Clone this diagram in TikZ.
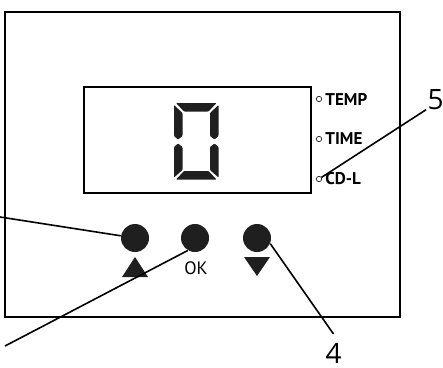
\documentclass[tikz,border=0pt]{standalone}
\usepackage{fontspec}
\setmainfont{PT Sans}
\newfontfamily\numfont{Open Sans}
\usetikzlibrary{positioning}

\tikzset{
	button/.style={circle,fill=black!88,minimum size=28pt,inner sep=0pt},
	lamp/.style={circle,draw,line width=0.6pt,minimum size=5.4pt,inner sep=0pt},
	lamptext/.style={font=\fontsize{17}{17}\selectfont\bfseries,inner sep=0pt,anchor=west},
	callout/.style={font=\numfont\fontsize{28}{28}\selectfont,inner sep=0pt,anchor=base},
	lead/.style={line width=1.6pt},
	segment/.style={fill=black!88,rounded corners=0.8pt}
}

\begin{document}
\begin{tikzpicture}[x=1pt,y=-1pt,thick]
			\useasboundingbox (0,0) rectangle (443,367);
			\draw[line width=1.4pt] (5,12) rectangle (400,317);
			\draw[line width=1.4pt] (84,87) rectangle (311,193);

			\fill[segment] (176,103)--(216.5,103)--(208.5,111.5)--(184,111.5)--cycle;
			\fill[segment] (174,105)--(182.5,113)--(182.5,136)--(178,139.5)--(174,136)--cycle;
			\fill[segment] (218.5,105)--(218.5,136)--(214.5,139.5)--(210,136)--(210,113)--cycle;
			\fill[segment] (174,147)--(178,143.5)--(182.5,147)--(182.5,170)--(174,177.5)--cycle;
			\fill[segment] (218.5,147)--(218.5,177.5)--(210,170)--(210,147)--(214.5,143.5)--cycle;
			\fill[segment] (184,171)--(208.5,171)--(216.5,179.5)--(176,179.5)--cycle;

			\node[lamp] (ltemp) at (319,99) {};
			\node[lamp] (ltime) at (319,139) {};
			\node[lamp] (lcdl) at (319,179) {};
			\node[lamptext,right=3pt of ltemp] (ttemp) {TEMP};
			\node[lamptext,right=3pt of ltime] (ttime) {TIME};
			\node[lamptext,right=3pt of lcdl] (tcdl) {CD-L};

			\node[button] (btnup) at (135,238) {};
			\node[button] (btnok) at (195,238) {};
			\node[button] (btndown) at (257,238) {};
			\fill[black!88] (122,277)--(148,277)--(135,257)--cycle;
			\fill[black!88] (244,257)--(270,257)--(257,276)--cycle;
			\node[font=\fontsize{18}{18}\selectfont,inner sep=0pt] (tok) at (196,268) {OK};

			\node[callout] (n5) at (435.5,109) {5};
			\node[callout] (n4) at (333.5,363.5) {4};
			\coordinate (lead1) at (0,217);
			\coordinate (lead2) at (5,346);

			\draw[lead] (lead1) -- (btnup);
			\draw[lead] (lead2) -- (btnok.240);
			\draw[lead] (btndown.-23) -- ([yshift=9pt]n4.north);
			\draw[lead] (lcdl) -- ([xshift=-1pt]n5.south west);

		\end{tikzpicture}
\end{document}
